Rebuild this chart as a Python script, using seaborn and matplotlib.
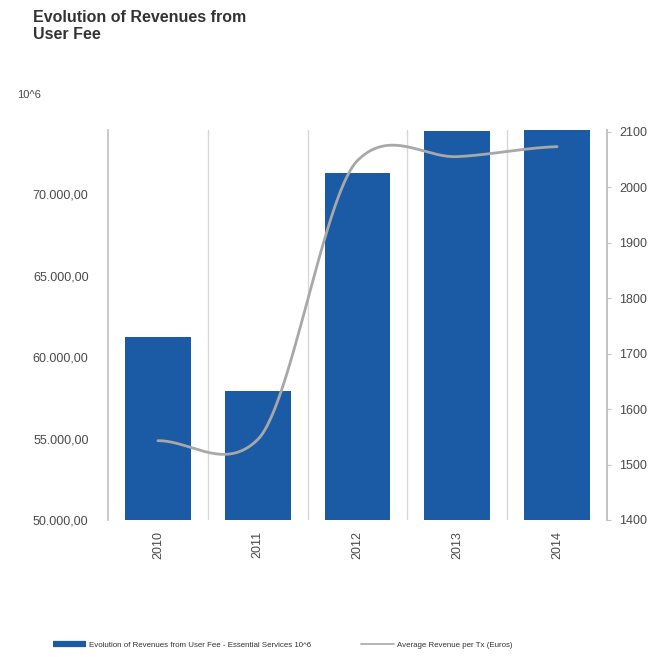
import numpy as np
import pandas as pd
import matplotlib
matplotlib.use("Agg")
import matplotlib.pyplot as plt
from matplotlib.lines import Line2D
from matplotlib.ticker import FuncFormatter
from matplotlib.transforms import Bbox, TransformedBbox
import seaborn as sns

# ---- data ----
years = ["2010", "2011", "2012", "2013", "2014"]
revenues = [61250, 57930, 71270, 73860, 73920]          # 10^6
avg_revenue_per_tx = [1543, 1545, 2048, 2055, 2073]     # Euros

left_ticks = [50000, 55000, 60000, 65000, 70000]
right_ticks = [1400, 1500, 1600, 1700, 1800, 1900, 2000, 2100]

bar_label = "Evolution of Revenues from User Fee - Essential Services 10^6"
line_label = "Average Revenue per Tx (Euros)"

BAR_COLOR = "#1b5ba6"
LINE_COLOR = "#a8a8a8"
TEXT_COLOR = "#4a4a4a"
GRID_COLOR = "#d8d8d8"


def smooth_curve(values, tension=0.35, n=60):
    """Cardinal-spline through the given points (x = 0..len-1)."""
    p = np.asarray(values, dtype=float)
    k = len(p)
    m = np.zeros(k)
    for i in range(k):
        if i == 0:
            m[i] = tension * (p[1] - p[0])
        elif i == k - 1:
            m[i] = tension * (p[-1] - p[-2])
        else:
            m[i] = tension * (p[i + 1] - p[i - 1])
    xs, ys = [], []
    for i in range(k - 1):
        t = np.linspace(0, 1, n, endpoint=(i == k - 2))
        h00 = 2 * t**3 - 3 * t**2 + 1
        h10 = t**3 - 2 * t**2 + t
        h01 = -2 * t**3 + 3 * t**2
        h11 = t**3 - t**2
        xs.append(i + t)
        ys.append(h00 * p[i] + h10 * m[i] + h01 * p[i + 1] + h11 * m[i + 1])
    return np.concatenate(xs), np.concatenate(ys)


sns.set_theme(style="white")
plt.rcParams["font.family"] = ["Liberation Sans", "DejaVu Sans"]

W, H = 655, 657
fig = plt.figure(figsize=(W / 100, H / 100), dpi=100)
ax = fig.add_axes([108 / W, 1 - 520 / H, (607 - 108) / W, (520 - 130) / H])

df = pd.DataFrame({"year": years, "revenue": revenues})
sns.barplot(data=df, x="year", y="revenue", color=BAR_COLOR, saturation=1,
            width=0.66, ax=ax, zorder=2)
# let the tallest bars poke a little above the plot top, but clip at the bottom
clip = TransformedBbox(Bbox([[0, 0], [1, 1.05]]), ax.transAxes)
for patch in ax.patches:
    patch.set_clip_box(clip)
    patch.set_edgecolor("none")

ax.set_xlim(-0.5, 4.5)
ax.set_ylim(50000, 73930)
ax.set_yticks(left_ticks)
ax.yaxis.set_major_formatter(
    FuncFormatter(lambda v, _: f"{v:,.2f}".replace(",", "X").replace(".", ",").replace("X", "."))
)
ax.set_xlabel("")
ax.set_ylabel("")
ax.tick_params(axis="y", length=0, pad=14, labelsize=9, labelcolor=TEXT_COLOR)
ax.tick_params(axis="x", length=0, pad=8, labelsize=9, labelcolor=TEXT_COLOR,
               labelrotation=90)
for lbl in ax.get_xticklabels():
    lbl.set_va("top")

# category separators
for xb in [0.5, 1.5, 2.5, 3.5]:
    ax.axvline(xb, color=GRID_COLOR, lw=1, zorder=0)

for side in ["top", "bottom"]:
    ax.spines[side].set_visible(False)
ax.spines["left"].set_color("#c4c4c4")
ax.spines["right"].set_color("#c4c4c4")

# secondary axis: average revenue per transaction
ax2 = ax.twinx()
cx, cy = smooth_curve(avg_revenue_per_tx)
sns.lineplot(x=cx, y=cy, color=LINE_COLOR, lw=2, ax=ax2, zorder=3, sort=False)
ax2.set_ylim(1400, 2103)
ax2.set_yticks(right_ticks)
ax2.set_ylabel("")
ax2.tick_params(axis="y", length=3, width=0.8, color="#c4c4c4", pad=6,
                labelsize=9, labelcolor=TEXT_COLOR)
for side in ["top", "bottom", "left"]:
    ax2.spines[side].set_visible(False)
ax2.spines["right"].set_color("#c4c4c4")
ax2.grid(False)
ax.grid(False)

# titles
fig.text(33 / W, 1 - 10 / H, "Evolution of Revenues from\nUser Fee", ha="left",
         va="top", fontsize=11.5, fontweight="bold", color="#333333", linespacing=1.15)
fig.text(17 / W, 1 - 95 / H, "10^6", ha="left", va="center", fontsize=8,
         color=TEXT_COLOR)

# legend
handles = [Line2D([], [], color=BAR_COLOR, lw=4.5, solid_capstyle="butt"),
           Line2D([], [], color=LINE_COLOR, lw=1.2)]
fig.legend(handles, [bar_label, line_label], loc="center left",
           bbox_to_anchor=(53 / W, 1 - 645 / H), ncol=2, frameon=False,
           fontsize=5.7, handlelength=4.2, handletextpad=0.4, columnspacing=6.2,
           borderpad=0, borderaxespad=0, labelcolor="#333333")

fig.savefig("out.png", dpi=100, facecolor="white")
